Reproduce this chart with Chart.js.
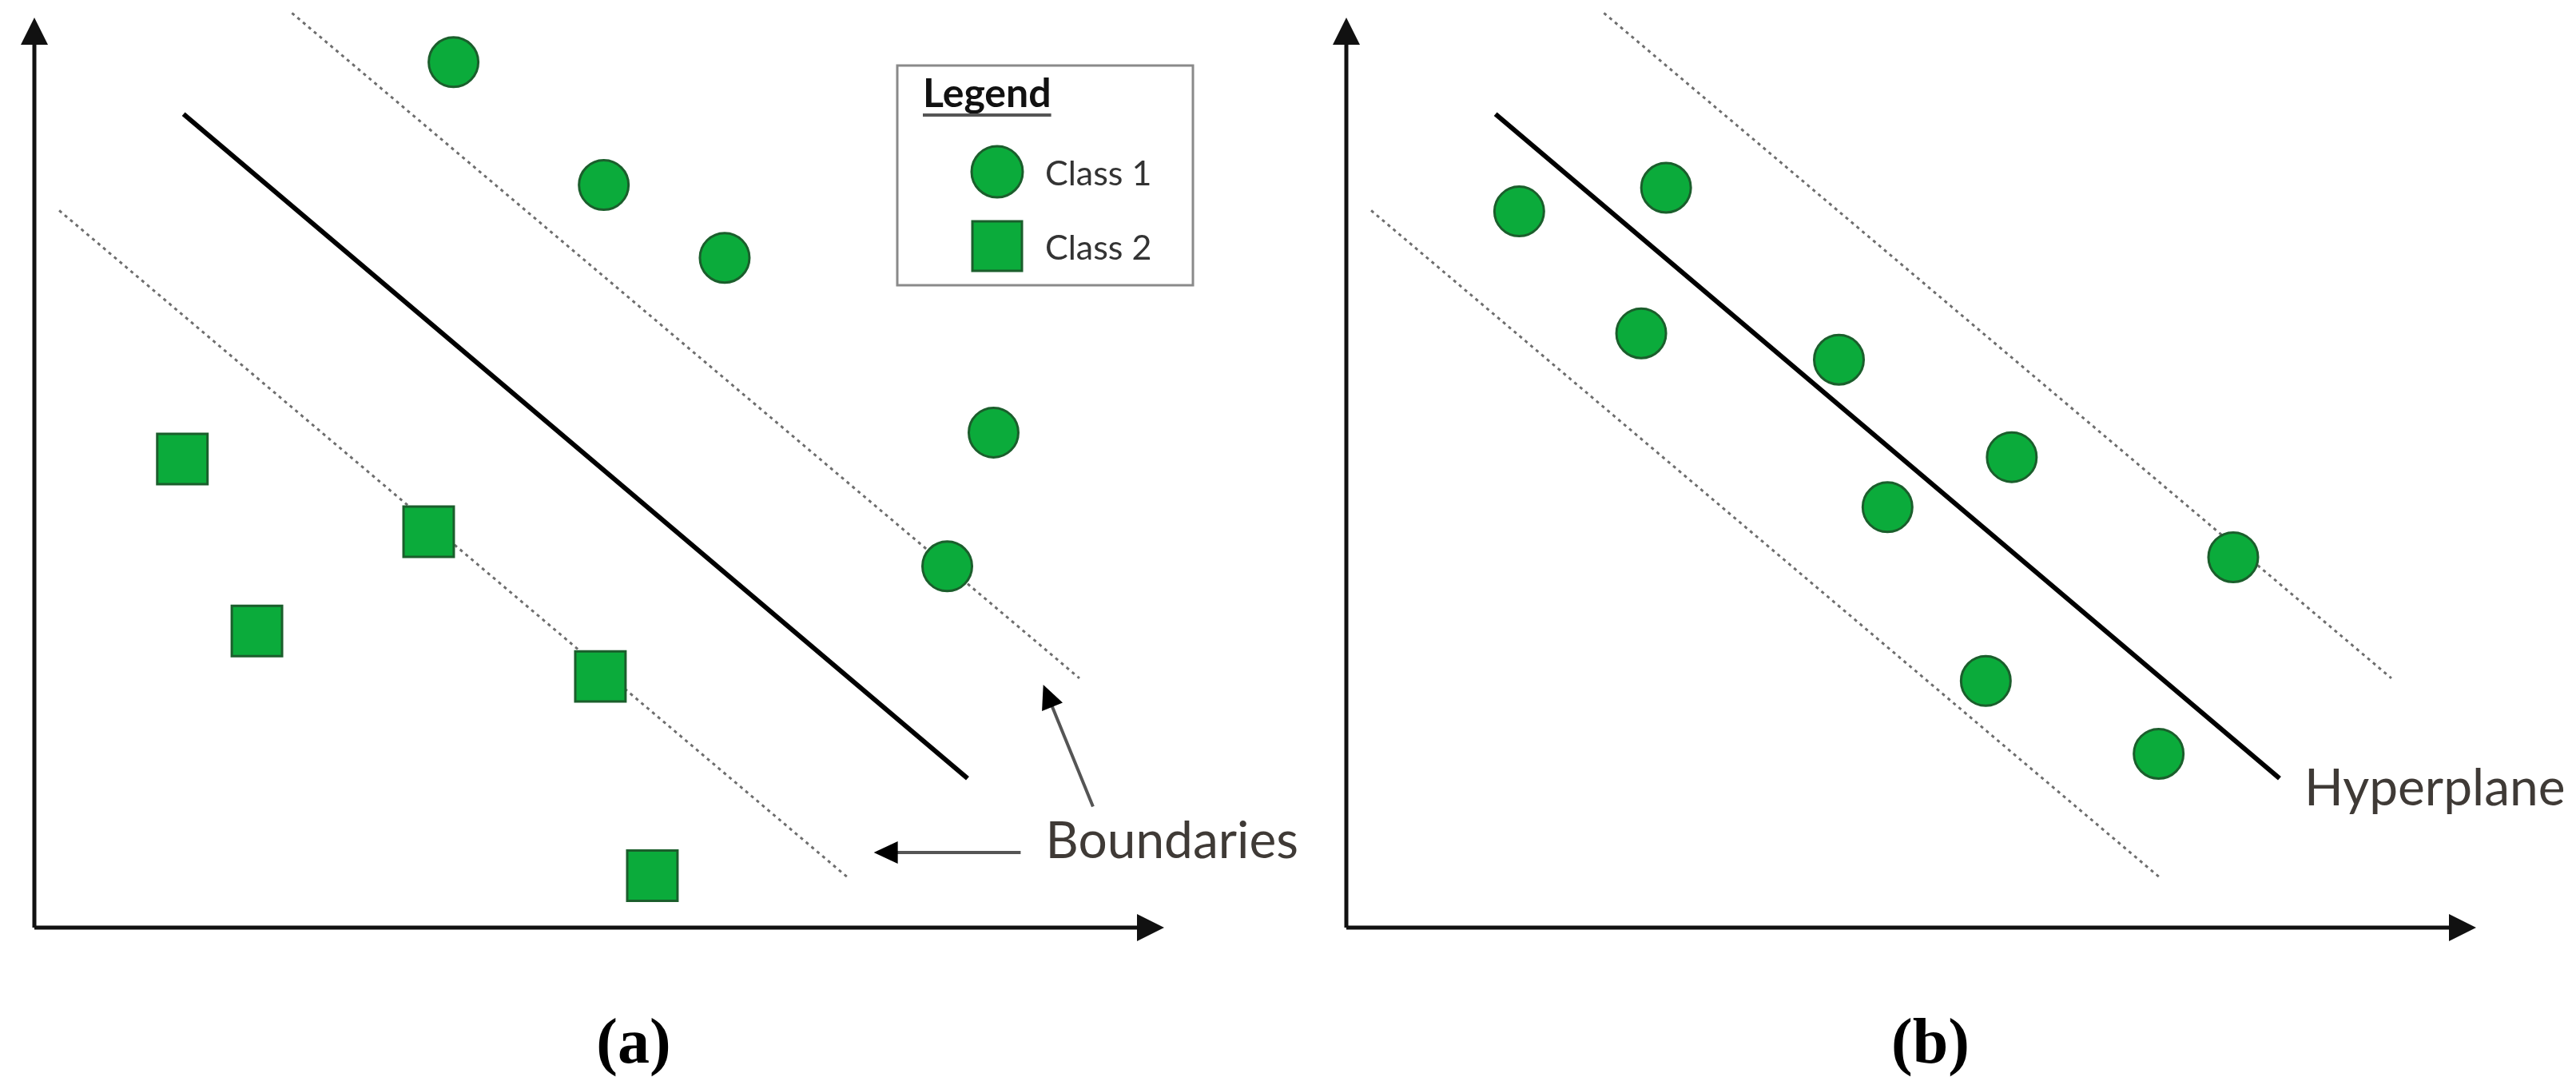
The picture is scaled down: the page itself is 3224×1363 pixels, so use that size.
<!DOCTYPE html>
<html>
<head>
<meta charset="utf-8">
<script src="https://cdn.jsdelivr.net/npm/chart.js@4.4.0/dist/chart.umd.min.js"></script>
<style>
    html, body { margin: 0; padding: 0; background: #ffffff; }
    #wrap { position: relative; width: 3224px; height: 1363px; }
    canvas { position: absolute; top: 0; }
</style>
</head>
<body>
<div id="wrap">
    <canvas id="panelA" width="1642" height="1363" style="left:0px"></canvas>
    <canvas id="panelB" width="1582" height="1363" style="left:1642px"></canvas>
</div>
<script>
// both panels use the same unit box, 0..100 on each axis
const AXIS_RANGE = [0, 100];

// panel (a): two classes
const class1A = [[37.1, 95.1], [50.4, 81.6], [61.1, 73.6], [84.9, 54.4], [80.8, 39.7]];
const class2A = [[13.1, 51.5], [34.9, 43.5], [19.7, 32.6], [50.1, 27.6], [54.7, 5.7]];

// panel (b): one class around the hyperplane
const class1B = [
    [15.3, 78.7], [28.3, 81.3], [26.1, 65.3], [43.6, 62.4], [58.9, 51.7],
    [47.9, 46.2], [78.5, 40.7], [56.6, 27.1], [71.9, 19.1]
];

// separating line and its margins (same in both panels)
const hyperplane = [[13.2, 89.4], [82.6, 16.4]];
const upperBoundary = [[22.8, 100.5], [92.5, 27.4]];
const lowerBoundary = [[2.2, 78.8], [72.1, 5.4]];

// callout arrows in (a), each [from, to]
const boundaryArrows = [
    [[93.7, 13.3], [89.3, 26.7]],
    [[87.3, 8.25], [74.3, 8.25]]
];
const boundariesLabelAt = [89.5, 7.6];
const hyperplaneLabelAt = [84.8, 13.4];

const CLASS_LABELS = ['Class 1', 'Class 2'];
const PANEL_CAPTIONS = ['(a)', '(b)'];

const GREEN = '#0bab3b';
const GREEN_EDGE = '#1b5e2c';
const TEXT_FONT = 'Lato, "Open Sans", sans-serif';

const toPoints = pairs => pairs.map(([x, y]) => ({ x, y }));

function markerSet(label, pairs, style) {
    return {
        type: 'scatter',
        label,
        data: toPoints(pairs),
        pointStyle: style,
        pointRadius: style === 'rect' ? 44.5 : 31,
        pointBorderWidth: 3,
        backgroundColor: GREEN,
        borderColor: GREEN_EDGE,
        clip: false,
        order: 0
    };
}

function lineSet(pairs, dotted) {
    return {
        type: 'line',
        data: toPoints(pairs),
        borderColor: dotted ? '#6e6e6e' : '#000000',
        borderWidth: dotted ? 3 : 6,
        borderDash: dotted ? [4, 5] : [],
        pointRadius: 0,
        fill: false,
        clip: false,
        order: 1
    };
}

function arrowHead(ctx, fx, fy, tx, ty, len, half) {
    const a = Math.atan2(ty - fy, tx - fx);
    const bx = tx - len * Math.cos(a);
    const by = ty - len * Math.sin(a);
    ctx.beginPath();
    ctx.moveTo(tx, ty);
    ctx.lineTo(bx + half * Math.sin(a), by - half * Math.cos(a));
    ctx.lineTo(bx - half * Math.sin(a), by + half * Math.cos(a));
    ctx.closePath();
    ctx.fill();
}

// plain x / y axes with arrow tips
const axisArrows = {
    id: 'axisArrows',
    beforeDatasetsDraw(chart) {
        const { ctx, scales: { x, y } } = chart;
        const x0 = x.getPixelForValue(AXIS_RANGE[0]);
        const x1 = x.getPixelForValue(AXIS_RANGE[1]);
        const y0 = y.getPixelForValue(AXIS_RANGE[0]);
        const y1 = y.getPixelForValue(AXIS_RANGE[1]);
        ctx.save();
        ctx.strokeStyle = '#111111';
        ctx.fillStyle = '#111111';
        ctx.lineWidth = 5;
        ctx.beginPath();
        ctx.moveTo(x0, y0);
        ctx.lineTo(x1 - 28, y0);
        ctx.moveTo(x0, y0);
        ctx.lineTo(x0, y1 + 28);
        ctx.stroke();
        arrowHead(ctx, x0, y0, x1, y0, 34, 17);
        arrowHead(ctx, x0, y0, x0, y1, 34, 17);
        ctx.restore();
    }
};

// text labels and pointer arrows, placed in data units
const callouts = {
    id: 'callouts',
    afterDatasetsDraw(chart, args, opts) {
        const { ctx, scales: { x, y } } = chart;
        ctx.save();
        (opts.arrows || []).forEach(([from, to]) => {
            const fx = x.getPixelForValue(from[0]);
            const fy = y.getPixelForValue(from[1]);
            const tx = x.getPixelForValue(to[0]);
            const ty = y.getPixelForValue(to[1]);
            ctx.strokeStyle = '#555555';
            ctx.lineWidth = 4;
            const a = Math.atan2(ty - fy, tx - fx);
            ctx.beginPath();
            ctx.moveTo(fx, fy);
            ctx.lineTo(tx - 20 * Math.cos(a), ty - 20 * Math.sin(a));
            ctx.stroke();
            ctx.fillStyle = '#000000';
            arrowHead(ctx, fx, fy, tx, ty, 30, 14);
        });
        (opts.texts || []).forEach(item => {
            ctx.font = `64px ${TEXT_FONT}`;
            ctx.fillStyle = '#3f3a36';
            ctx.textAlign = 'left';
            ctx.textBaseline = 'alphabetic';
            ctx.fillText(item.text, x.getPixelForValue(item.at[0]), y.getPixelForValue(item.at[1]));
        });
        ctx.restore();
    }
};

// boxed legend inside panel (a)
const boxLegend = {
    id: 'boxLegend',
    afterDraw(chart, args, opts) {
        if (!opts.box) {
            return;
        }
        const { ctx } = chart;
        const b = opts.box;
        ctx.save();
        ctx.fillStyle = '#ffffff';
        ctx.fillRect(b.left, b.top, b.width, b.height);
        ctx.strokeStyle = '#8a8a8a';
        ctx.lineWidth = 3;
        ctx.strokeRect(b.left, b.top, b.width, b.height);

        ctx.fillStyle = '#111111';
        ctx.font = `bold 50px ${TEXT_FONT}`;
        ctx.textBaseline = 'alphabetic';
        ctx.fillText(opts.title, b.left + 32, b.top + 52);
        const tw = ctx.measureText(opts.title).width;
        ctx.fillStyle = '#555555';
        ctx.fillRect(b.left + 32, b.top + 60, tw, 4);

        const items = chart.data.datasets.filter(ds => ds.label);
        items.forEach((ds, i) => {
            const cx = b.left + 125;
            const cy = b.top + 133 + i * 93;
            ctx.fillStyle = ds.backgroundColor;
            ctx.strokeStyle = ds.borderColor;
            ctx.lineWidth = 3;
            ctx.beginPath();
            if (ds.pointStyle === 'rect') {
                ctx.rect(cx - 31, cy - 31, 62, 62);
            } else {
                ctx.arc(cx, cy, 32, 0, Math.PI * 2);
            }
            ctx.fill();
            ctx.stroke();
            ctx.fillStyle = '#333333';
            ctx.font = `43px ${TEXT_FONT}`;
            ctx.fillText(ds.label, b.left + 185, cy + 17);
        });
        ctx.restore();
    }
};

// panel caption under each plot
const caption = {
    id: 'caption',
    afterDraw(chart, args, opts) {
        const { ctx } = chart;
        ctx.save();
        ctx.fillStyle = '#000000';
        ctx.font = 'bold 80px "Liberation Serif", "DejaVu Serif", serif';
        ctx.textAlign = 'center';
        ctx.textBaseline = 'alphabetic';
        ctx.fillText(opts.text, opts.x, opts.y);
        ctx.restore();
    }
};

function buildPanel(canvasId, datasets, pluginOpts, padRight) {
    return new Chart(document.getElementById(canvasId), {
        type: 'scatter',
        data: { datasets },
        options: {
            responsive: false,
            animation: false,
            events: [],
            layout: {
                autoPadding: false,
                padding: { left: 43, top: 22, right: padRight, bottom: 202 }
            },
            scales: {
                x: { type: 'linear', min: AXIS_RANGE[0], max: AXIS_RANGE[1], display: false },
                y: { type: 'linear', min: AXIS_RANGE[0], max: AXIS_RANGE[1], display: false }
            },
            plugins: Object.assign({
                legend: { display: false },
                tooltip: { enabled: false }
            }, pluginOpts)
        },
        plugins: [axisArrows, callouts, boxLegend, caption]
    });
}

buildPanel('panelA', [
    markerSet(CLASS_LABELS[0], class1A, 'circle'),
    markerSet(CLASS_LABELS[1], class2A, 'rect'),
    lineSet(hyperplane, false),
    lineSet(upperBoundary, true),
    lineSet(lowerBoundary, true)
], {
    callouts: {
        arrows: boundaryArrows,
        texts: [{ text: 'Boundaries', at: boundariesLabelAt }]
    },
    boxLegend: {
        title: 'Legend',
        box: { left: 1123, top: 82, width: 370, height: 275 }
    },
    caption: { text: PANEL_CAPTIONS[0], x: 793, y: 1330 }
}, 185);

buildPanel('panelB', [
    markerSet(null, class1B, 'circle'),
    lineSet(hyperplane, false),
    lineSet(upperBoundary, true),
    lineSet(lowerBoundary, true)
], {
    callouts: {
        arrows: [],
        texts: [{ text: 'Hyperplane', at: hyperplaneLabelAt }]
    },
    boxLegend: {},
    caption: { text: PANEL_CAPTIONS[1], x: 774, y: 1330 }
}, 125);
</script>
</body>
</html>
